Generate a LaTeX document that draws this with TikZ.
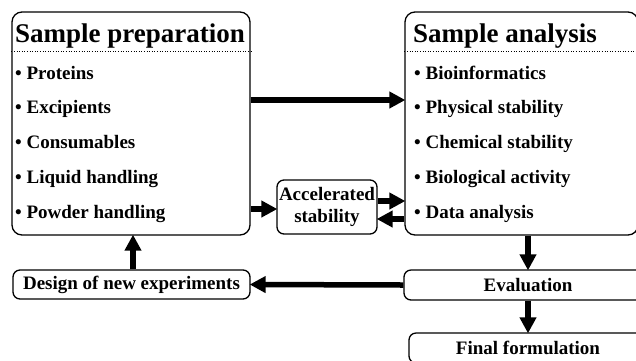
\documentclass[tikz,border=0pt]{standalone}
\usepackage{fontspec}
\setmainfont{Liberation Serif}
\usetikzlibrary{arrows.meta}

\tikzset{
	bigbox/.style={draw, line width=1.3pt, rounded corners=10pt, inner sep=0pt},
	smallbox/.style={draw, line width=1.3pt, rounded corners=7pt, inner sep=0pt, font=\fontsize{19}{22}\selectfont\bfseries},
	boxtitle/.style={anchor=base west, inner sep=0pt, font=\fontsize{27}{30}\selectfont\bfseries},
	boxitem/.style={anchor=base west, inner sep=0pt, font=\fontsize{19}{22}\selectfont\bfseries},
	flowarrow/.style={line width=5.5pt, -{Triangle[length=16pt,width=16pt]}, shorten >=-1pt}
}

\begin{document}
\begin{tikzpicture}[x=1pt,y=-1pt]
	\useasboundingbox (0,0) rectangle (636,360);

	% Main boxes
	\node[bigbox, minimum width=238pt, minimum height=223pt] (prep) at (131,123.5) {};
	\node[bigbox, minimum width=233pt, minimum height=223pt] (ana) at (521.5,123.5) {};

	% Titles and dotted rules
	\node[boxtitle] (preptitle) at (15,42) {Sample preparation};
	\node[boxtitle] (anatitle) at (413,42) {Sample analysis};
	\draw[dotted, line width=0.6pt] (prep.west |- 0,51) -- (prep.east |- 0,51);
	\draw[dotted, line width=0.6pt] (ana.west |- 0,51) -- (ana.east |- 0,51);

	% Items of both boxes
	\foreach \txt [count=\i] in {Proteins, Excipients, Consumables, Liquid handling, Powder handling}
		\node[boxitem] (prep\i) at (15,{79+34.75*(\i-1)}) {\textbullet\ \txt};
	\foreach \txt [count=\i] in {Bioinformatics, Physical stability, Chemical stability, Biological activity, Data analysis}
		\node[boxitem] (ana\i) at (414,{79+34.75*(\i-1)}) {\textbullet\ \txt};

	% Small boxes
	\node[smallbox, minimum width=100pt, minimum height=54pt, align=center] (accel) at (327,207) {Accelerated\\stability};
	\node[smallbox, minimum width=237pt, minimum height=29pt] (design) at (131.5,284.5) {Design of new experiments};
	\node[smallbox, minimum width=248pt, minimum height=30pt] (eval) at (528,285) {Evaluation};
	\node[smallbox, minimum width=238pt, minimum height=30pt] (final) at (528,348) {Final formulation};

	% Arrows
	\draw[flowarrow] (prep.east |- 0,100) -- (ana.west |- 0,100);
	\draw[flowarrow] (prep.east |- 0,209) -- (accel.west |- 0,209);
	\draw[flowarrow] (accel.east |- 0,201) -- (ana.west |- 0,201);
	\draw[flowarrow] (ana.west |- 0,219) -- (accel.east |- 0,219);
	\draw[flowarrow] (ana.south -| eval.north) -- (eval.north);
	\draw[flowarrow] (eval.south) -- (final.north);
	\draw[flowarrow] (eval.west) -- (design.east);
	\draw[flowarrow] (design.north -| 133,0) -- (prep.south -| 133,0);
\end{tikzpicture}
\end{document}
